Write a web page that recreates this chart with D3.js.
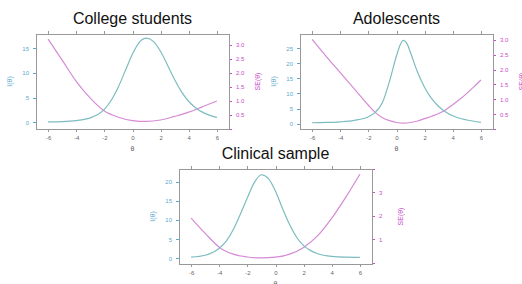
<!DOCTYPE html>
<meta charset="utf-8">
<svg width="522" height="284"></svg>
<style>
  body { margin: 0; background: #fff; }
  svg { font-family: "Liberation Sans", Arial, sans-serif; display: block; }
  .axis path, .axis line { shape-rendering: crispEdges; }
</style>
<script src="https://d3js.org/d3.v7.min.js"></script>
<script>

// test information I(theta) and standard error SE(theta)
var titles = ["College students", "Adolescents", "Clinical sample"];
var xTicks = [-6, -4, -2, 0, 2, 4, 6];

var collegeTheta = [-6, -5, -4, -3, -2.5, -2, -1.5, -1, -0.5, 0, 0.5, 1, 1.5, 2, 2.5, 3, 3.5, 4, 4.5, 5, 5.5, 6];
var collegeInfo  = [0.1, 0.15, 0.35, 0.9, 1.5, 2.6, 4.5, 7.2, 10.5, 13.8, 16.2, 17, 16.3, 14.3, 11.5, 8.6, 6.1, 4.2, 2.9, 2.0, 1.4, 1.0];
var collegeSeTheta = [-6, -5, -4, -3, -2, -1, 0, 1, 2, 3, 4, 5, 6];
var collegeSe      = [3.21, 2.46, 1.7, 1.1, 0.64, 0.42, 0.3, 0.27, 0.32, 0.45, 0.6, 0.8, 1.0];

var adolTheta = [-6, -5, -4, -3, -2, -1.5, -1, -0.5, 0, 0.25, 0.5, 0.75, 1, 1.5, 2, 2.5, 3, 3.5, 4, 5, 6];
var adolInfo  = [0.3, 0.4, 0.6, 1.1, 2.3, 3.8, 7, 14, 22.5, 26, 27.6, 26.5, 23.5, 17, 12, 8.3, 5.7, 3.9, 2.6, 1.2, 0.45];
var adolSeTheta = [-6, -5, -4, -3, -2, -1.5, -1, -0.5, 0, 0.5, 1, 1.5, 2, 2.5, 3, 3.5, 4, 4.5, 5, 5.5, 6];
var adolSe      = [3.02, 2.45, 1.9, 1.35, 0.8, 0.55, 0.38, 0.28, 0.22, 0.2, 0.22, 0.27, 0.35, 0.43, 0.52, 0.65, 0.82, 1.0, 1.2, 1.42, 1.65];

var clinTheta = [-6, -5, -4, -3.5, -3, -2.5, -2, -1.5, -1, -0.5, 0, 0.5, 1, 1.5, 2, 2.5, 3, 4, 5, 6];
var clinInfo  = [0.3, 0.8, 2.6, 4.5, 7.5, 11.5, 15.8, 19.8, 21.8, 20.8, 17.5, 13, 8.8, 5.5, 3.3, 2.0, 1.2, 0.5, 0.3, 0.25];
var clinSeTheta = [-6, -5, -4, -3, -2, -1, 0, 1, 2, 3, 4, 5, 6];
var clinSe      = [1.9, 1.25, 0.66, 0.36, 0.24, 0.2, 0.23, 0.36, 0.65, 1.15, 1.9, 2.8, 3.78];

var infoTicks = [[0, 5, 10, 15], [0, 5, 10, 15, 20, 25], [0, 5, 10, 15, 20]];
var seTicks = [[0, 0.5, 1, 1.5, 2, 2.5, 3], [0, 0.5, 1, 1.5, 2, 2.5, 3], [0, 1, 2, 3, 4]];
var seLabelled = [[0.5, 1, 1.5, 2, 2.5, 3], [0.5, 1, 1.5, 2, 2.5, 3], [1, 2, 3]];

var panels = [
  {left: 36,  top: 34,  info: [-1.36, 17.85], se: [0, 3.39], th: collegeTheta, I: collegeInfo, sth: collegeSeTheta, se_v: collegeSe},
  {left: 300, top: 34,  info: [-1.77, 29.7],  se: [0, 3.2],  th: adolTheta,    I: adolInfo,    sth: adolSeTheta,    se_v: adolSe},
  {left: 179, top: 169, info: [-1.49, 23.3],  se: [-0.06, 4.0], th: clinTheta, I: clinInfo,    sth: clinSeTheta,    se_v: clinSe}
];

var w = 193, h = 95;
var infoCol = "#7dbcc0", infoText = "#5aa9cf",
    seCol = "#d58bd5", seText = "#c94cc9",
    boxCol = "#999", tickText = "#666";

var svg = d3.select("svg");

panels.forEach(function(p, i) {
  var g = svg.append("g").attr("transform", "translate(" + p.left + "," + p.top + ")");

  var x = d3.scaleLinear().domain([-6.86, 6.86]).range([0, w]);
  var yI = d3.scaleLinear().domain(p.info).range([h, 0]);
  var yS = d3.scaleLinear().domain(p.se).range([h, 0]);

  // bottom axis with labels
  var xb = g.append("g").attr("class", "axis")
      .attr("transform", "translate(0," + h + ")")
      .call(d3.axisBottom(x).tickValues(xTicks).tickSize(3).tickPadding(4).tickFormat(function(d) { return String(d); }));
  // top axis, ticks only
  var xt = g.append("g").attr("class", "axis")
      .call(d3.axisTop(x).tickValues(xTicks).tickSize(3).tickFormat(""));
  [xb, xt].forEach(function(a) {
    a.select(".domain").remove();
    a.selectAll("line").attr("stroke", boxCol);
    a.selectAll("text").attr("fill", tickText).style("font-size", "6px");
  });

  // left axis: information
  var yl = g.append("g").attr("class", "axis")
      .call(d3.axisLeft(yI).tickValues(infoTicks[i]).tickSize(3).tickPadding(4));
  yl.select(".domain").remove();
  yl.selectAll("line").attr("stroke", infoText);
  yl.selectAll("text").attr("fill", infoText).style("font-size", "6px");

  // right axis: standard error
  var yr = g.append("g").attr("class", "axis")
      .attr("transform", "translate(" + w + ",0)")
      .call(d3.axisRight(yS).tickValues(seTicks[i]).tickSize(3).tickPadding(4)
        .tickFormat(function(d) {
          if (seLabelled[i].indexOf(d) < 0) return "";
          return i === 2 ? String(d) : d3.format(".1f")(d);
        }));
  yr.select(".domain").remove();
  yr.selectAll("line").attr("stroke", seText);
  yr.selectAll("text").attr("fill", seText).style("font-size", "6px");

  // frame
  g.append("rect")
      .attr("width", w).attr("height", h)
      .attr("fill", "none").attr("stroke", boxCol).attr("stroke-width", 1)
      .attr("shape-rendering", "crispEdges");

  // curves
  var lineI = d3.line()
      .x(function(d) { return x(d[0]); })
      .y(function(d) { return yI(d[1]); })
      .curve(d3.curveMonotoneX);
  var lineS = d3.line()
      .x(function(d) { return x(d[0]); })
      .y(function(d) { return yS(d[1]); })
      .curve(d3.curveMonotoneX);

  g.append("path")
      .datum(d3.zip(p.sth, p.se_v))
      .attr("fill", "none").attr("stroke", seCol).attr("stroke-width", 1.2)
      .attr("d", lineS);
  g.append("path")
      .datum(d3.zip(p.th, p.I))
      .attr("fill", "none").attr("stroke", infoCol).attr("stroke-width", 1.2)
      .attr("d", lineI);

  // titles and labels
  g.append("text")
      .attr("x", w / 2).attr("y", -10)
      .attr("text-anchor", "middle")
      .style("font-size", "16px").attr("fill", "#111")
      .text(titles[i]);

  g.append("text")
      .attr("x", w / 2).attr("y", h + 22)
      .attr("text-anchor", "middle")
      .style("font-size", "7px").attr("fill", tickText)
      .text("θ");

  g.append("text")
      .attr("transform", "translate(-24," + (h / 2) + ") rotate(-90)")
      .attr("text-anchor", "middle")
      .style("font-size", "7px").attr("fill", infoText)
      .text("I(θ)");

  g.append("text")
      .attr("transform", "translate(" + (w + 31) + "," + (h / 2) + ") rotate(-90)")
      .attr("text-anchor", "middle")
      .style("font-size", "7px").attr("fill", seText)
      .text("SE(θ)");
});

</script>
